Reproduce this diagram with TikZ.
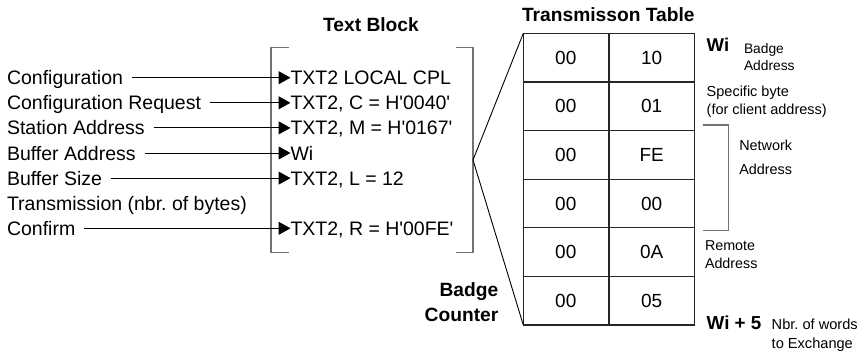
\documentclass[tikz,border=0pt]{standalone}
\usepackage{fontspec}
\setmainfont{Liberation Sans}[Ligatures=TeXOff]
\usepackage{tikz}
\usetikzlibrary{arrows.meta,positioning}
\frenchspacing

\begin{document}
\begin{tikzpicture}[
    x=1pt, y=-1pt,
    every node/.style={inner sep=0pt, outer sep=0pt},
    lbl/.style={font=\fontsize{19.5}{23}\selectfont, text height=14pt, text depth=0pt},
    ttl/.style={font=\fontsize{19.2}{25}\selectfont\bfseries},
    note/.style={anchor=base west, align=left, font=\fontsize{14.3}{17.6}\selectfont},
    cell/.style={draw=black!85, line width=1.2pt, minimum width=85pt, minimum height=48.6pt, font=\fontsize{19}{23}\selectfont},
    brk/.style={draw=black!55, line width=1.3pt},
    arr/.style={-{Triangle[length=12pt, width=13pt]}, line width=1pt, shorten <=9pt},
    lnk/.style={line width=0.9pt}
]
\useasboundingbox (0,0) rectangle (862,351);

% left side: what goes into the text block
\node[lbl, anchor=west] (cfg) at (7,77.7) {Configuration};
\node[lbl, below=11.1pt of cfg.south west, anchor=north west] (cfgreq) {Configuration Request};
\node[lbl, below=11.1pt of cfgreq.south west, anchor=north west] (staddr) {Station Address};
\node[lbl, below=11.1pt of staddr.south west, anchor=north west] (bufaddr) {Buffer Address};
\node[lbl, below=11.1pt of bufaddr.south west, anchor=north west] (bufsize) {Buffer Size};
\node[lbl, below=11.1pt of bufsize.south west, anchor=north west] (trans) {Transmission (nbr. of bytes)};
\node[lbl, below=11.1pt of trans.south west, anchor=north west] (confirm) {Confirm};

% text block
\coordinate (tbx) at (290.5,0);
\coordinate (tbnw) at (271,47.5);
\coordinate (tbse) at (473,252.5);
\coordinate (apex) at (473,160);
\node[ttl] (tbttl) at (371,25) {Text Block};
\node[lbl, anchor=west] (tlocal) at (cfg.west -| tbx) {TXT2 LOCAL CPL};
\node[lbl, anchor=west] (tc) at (cfgreq.west -| tbx) {TXT2, C = H'0040'};
\node[lbl, anchor=west] (tm) at (staddr.west -| tbx) {TXT2, M = H'0167'};
\node[lbl, anchor=west] (twi) at (bufaddr.west -| tbx) {Wi};
\node[lbl, anchor=west] (tl) at (bufsize.west -| tbx) {TXT2, L = 12};
\node[lbl, anchor=west] (tr) at (confirm.west -| tbx) {TXT2, R = H'00FE'};

\draw[brk] (tbnw) ++(18,0) -- (tbnw) -- (tbnw |- tbse) -- ++(18,0);
\draw[brk] (tbse) ++(-17,0) -- (tbse) -- (tbse |- tbnw) -- ++(-17,0);

\draw[arr] (cfg) -- (tlocal);
\draw[arr] (cfgreq) -- (tc);
\draw[arr] (staddr) -- (tm);
\draw[arr] (bufaddr) -- (twi);
\draw[arr] (bufsize) -- (tl);
\draw[arr] (confirm) -- (tr);

% transmission table
\foreach \n/\lv/\rv in {1/00/10,2/00/01,3/00/FE,4/00/00,5/00/0A,6/00/05} {
  \node[cell] (l\n) at (565.8,8.99+48.62*\n) {\lv};
  \node[cell] (r\n) at (651.7,8.99+48.62*\n) {\rv};
}
\node[ttl, above=12pt of l1.north east] (tabttl) {Transmisson Table};
\node[ttl, align=right, anchor=base east] (cntr) at (498.3,321.7) {Badge\\Counter};
\draw[lnk] (l1.north west) -- (apex) -- (l6.south west);

% notes on the right (base = last line)
\node[ttl, font=\fontsize{18.5}{22}\selectfont\bfseries, anchor=base west] (wi) at (706.7,51) {Wi};
\node[note, font=\fontsize{13.8}{17.4}\selectfont] (badge) at (744,70.7) {Badge\\Address};
\node[note, font=\fontsize{14.5}{18}\selectfont] (spec) at (706.7,114) {Specific byte\\(for client address)};
\coordinate (nwt) at (702.7,125);
\coordinate (nwb) at (728.3,230.7);
\draw[brk] (nwt) -- (nwt -| nwb) -- (nwb) -- (nwb -| nwt);
\node[note, font=\fontsize{14.4}{23.6}\selectfont] (netw) at (739.3,174.3) {Network\\Address};
\node[note] (remote) at (705,268.3) {Remote\\Address};
\node[ttl, font=\fontsize{18.8}{22}\selectfont\bfseries, anchor=base west] (wi5) at (706.7,329.3) {Wi + 5};
\node[note, font=\fontsize{14.6}{19}\selectfont] (nbr) at (771.7,348.3) {Nbr. of words\\to Exchange};

\end{tikzpicture}
\end{document}
